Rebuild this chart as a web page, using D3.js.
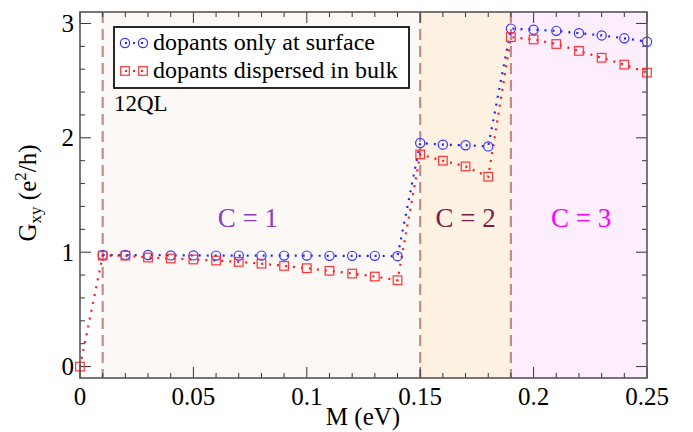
<!DOCTYPE html>
<html><head><meta charset="utf-8"><script src="https://cdn.jsdelivr.net/npm/d3@7"></script></head>
<body style="margin:0">
<svg id="chart" width="693" height="432"></svg>
<script>
// Datos
const mSurface = [0.01, 0.02, 0.03, 0.04, 0.05, 0.06, 0.07, 0.08, 0.09, 0.10, 0.11, 0.12, 0.13, 0.14,
                  0.15, 0.16, 0.17, 0.18, 0.19, 0.20, 0.21, 0.22, 0.23, 0.24, 0.25];
const gSurface = [0.975, 0.975, 0.975, 0.972, 0.972, 0.97, 0.97, 0.97, 0.97, 0.97, 0.968, 0.968, 0.968, 0.965,
                  1.955, 1.94, 1.935, 1.925, 2.955, 2.945, 2.935, 2.915, 2.895, 2.87, 2.84];
const mBulk = [0, 0.01, 0.02, 0.03, 0.04, 0.05, 0.06, 0.07, 0.08, 0.09, 0.10, 0.11, 0.12, 0.13, 0.14,
               0.15, 0.16, 0.17, 0.18, 0.19, 0.20, 0.21, 0.22, 0.23, 0.24, 0.25];
const gBulk = [0, 0.97, 0.97, 0.953, 0.945, 0.936, 0.927, 0.915, 0.90, 0.88, 0.86, 0.837, 0.813, 0.787, 0.755,
               1.855, 1.80, 1.75, 1.66, 2.88, 2.86, 2.82, 2.76, 2.70, 2.64, 2.57];

const regionStarts = [0.01, 0.15, 0.19];
const regionEnds = [0.15, 0.19, 0.25];
const regionFills = ["#fcf8f5", "#fdf2e2", "#fdeefd"];
const regionLabels = ["C = 1", "C = 2", "C = 3"];
const regionLabelX = [0.074, 0.17, 0.221];
const regionLabelColors = ["#8a3fc4", "#7a1f45", "#ff00ff"];
const boundaries = [0.01, 0.15, 0.19];

const xTicks = [0, 0.05, 0.1, 0.15, 0.2, 0.25];
const xTickLabels = ["0", "0.05", "0.1", "0.15", "0.2", "0.25"];
const yTicks = [0, 1, 2, 3];

const fontName = "Liberation Serif";
const ff = "'" + fontName + "', monospace";
const ctx = document.createElement("canvas").getContext("2d");
ctx.font = "30px monospace"; ctx.measureText("dopants 0.05");
ctx.font = "30px " + ff; ctx.measureText("dopants 0.05");

const svg = d3.select("#chart");

const x = d3.scaleLinear().domain([0, 0.25]).range([80, 647]);
const y = d3.scaleLinear().domain([-0.1, 3.1]).range([378, 12]);

// Fondos de las regiones
svg.append("g").selectAll("rect")
    .data(regionStarts)
    .enter().append("rect")
    .attr("x", (d, i) => x(d))
    .attr("y", y(3.1))
    .attr("width", (d, i) => x(regionEnds[i]) - x(d))
    .attr("height", y(-0.1) - y(3.1))
    .attr("fill", (d, i) => regionFills[i]);

// Líneas discontinuas de transición
svg.append("g").selectAll("line")
    .data(boundaries)
    .enter().append("line")
    .attr("x1", d => x(d)).attr("x2", d => x(d))
    .attr("y1", y(3.1)).attr("y2", y(-0.1))
    .attr("stroke", "#c08c8c")
    .attr("stroke-width", 2.2)
    .attr("stroke-dasharray", "11,6");

// Etiquetas C = n
svg.append("g").selectAll("text")
    .data(regionLabels)
    .enter().append("text")
    .attr("x", (d, i) => x(regionLabelX[i]))
    .attr("y", 227)
    .attr("text-anchor", "middle")
    .attr("font-family", ff)
    .attr("font-size", 27)
    .attr("fill", (d, i) => regionLabelColors[i])
    .text(d => d);

// Ejes con marcas hacia dentro
const xMinor = d3.range(0, 0.2501, 0.01);
const yMinor = d3.range(0, 3.001, 0.2);
const axisG = svg.append("g").attr("stroke", "#333").attr("stroke-width", 1);
const xMajorSet = xTicks.map(v => Math.round(v * 100));
xMinor.forEach(v => {
    const isMajor = xMajorSet.includes(Math.round(v * 100));
    const len = isMajor ? 11 : 5;
    axisG.append("line").attr("x1", x(v)).attr("x2", x(v)).attr("y1", y(-0.1)).attr("y2", y(-0.1) - len);
    axisG.append("line").attr("x1", x(v)).attr("x2", x(v)).attr("y1", y(3.1)).attr("y2", y(3.1) + len);
});
yMinor.forEach(v => {
    const isMajor = Math.abs(v - Math.round(v)) < 1e-6;
    const len = isMajor ? 11 : 5;
    axisG.append("line").attr("x1", x(0)).attr("x2", x(0) + len).attr("y1", y(v)).attr("y2", y(v));
    axisG.append("line").attr("x1", x(0.25)).attr("x2", x(0.25) - len).attr("y1", y(v)).attr("y2", y(v));
});

// Series punteadas
const line = d3.line().x(d => x(d[0])).y(d => y(d[1]));
const surfacePts = mSurface.map((m, i) => [m, gSurface[i]]);
const bulkPts = mBulk.map((m, i) => [m, gBulk[i]]);

svg.append("path").datum(surfacePts)
    .attr("d", line).attr("fill", "none")
    .attr("stroke", "#2222ff").attr("stroke-width", 2.2)
    .attr("stroke-dasharray", "2,6");
svg.append("path").datum(bulkPts)
    .attr("d", line).attr("fill", "none")
    .attr("stroke", "#ff1a1a").attr("stroke-width", 2.2)
    .attr("stroke-dasharray", "2,6");

svg.append("g").selectAll("circle")
    .data(surfacePts)
    .enter().append("circle")
    .attr("cx", d => x(d[0])).attr("cy", d => y(d[1]))
    .attr("r", 4.6)
    .attr("fill", "none").attr("stroke", "#3333ff").attr("stroke-width", 1.2);

svg.append("g").selectAll("rect")
    .data(bulkPts)
    .enter().append("rect")
    .attr("x", d => x(d[0]) - 4.3).attr("y", d => y(d[1]) - 4.3)
    .attr("width", 8.6).attr("height", 8.6)
    .attr("fill", "none").attr("stroke", "#ff3333").attr("stroke-width", 1.2);

// Marco
svg.append("rect")
    .attr("x", x(0)).attr("y", y(3.1))
    .attr("width", x(0.25) - x(0)).attr("height", y(-0.1) - y(3.1))
    .attr("fill", "none").attr("stroke", "#555").attr("stroke-width", 1.6);

// Etiquetas de marcas
svg.append("g").selectAll("text")
    .data(xTicks)
    .enter().append("text")
    .attr("x", d => x(d)).attr("y", 405)
    .attr("text-anchor", "middle").attr("font-family", ff).attr("font-size", 25)
    .text((d, i) => xTickLabels[i]);

svg.append("g").selectAll("text")
    .data(yTicks)
    .enter().append("text")
    .attr("x", 74).attr("y", d => y(d) + 8.5)
    .attr("text-anchor", "end").attr("font-family", ff).attr("font-size", 25)
    .text(d => d);

// Títulos de ejes
svg.append("text")
    .attr("x", 363).attr("y", 425)
    .attr("text-anchor", "middle").attr("font-family", ff).attr("font-size", 25)
    .text("M (eV)");

const yTitle = svg.append("text")
    .attr("transform", "translate(36,193) rotate(-90)")
    .attr("text-anchor", "middle").attr("font-family", ff).attr("font-size", 25);
yTitle.append("tspan").text("G");
yTitle.append("tspan").attr("font-size", 17).attr("dy", 5).text("xy");
yTitle.append("tspan").attr("dy", -5).text(" (e");
yTitle.append("tspan").attr("font-size", 17).attr("dy", -10).text("2");
yTitle.append("tspan").attr("dy", 10).text("/h)");

// Leyenda
const legend = svg.append("g");
legend.append("rect")
    .attr("x", 114).attr("y", 27).attr("width", 295).attr("height", 61)
    .attr("fill", "#fff").attr("stroke", "#111").attr("stroke-width", 1.8);

const legendLabels = ["dopants only at surface", "dopants dispersed in bulk"];
const legendColors = ["#2222ff", "#ff1a1a"];
const legendY = [43, 71];
legendLabels.forEach((lab, i) => {
    const ly = legendY[i];
    legend.append("line")
        .attr("x1", 125).attr("x2", 143).attr("y1", ly).attr("y2", ly)
        .attr("stroke", legendColors[i]).attr("stroke-width", 2.2)
        .attr("stroke-dasharray", "2,6").attr("stroke-dashoffset", -8);
    [125, 143].forEach(cx => {
        if (i === 0) {
            legend.append("circle").attr("cx", cx).attr("cy", ly).attr("r", 4.6)
                .attr("fill", "none").attr("stroke", "#3333ff").attr("stroke-width", 1.2);
        } else {
            legend.append("rect").attr("x", cx - 4.3).attr("y", ly - 4.3)
                .attr("width", 8.6).attr("height", 8.6)
                .attr("fill", "none").attr("stroke", "#ff3333").attr("stroke-width", 1.2);
        }
    });
    legend.append("text")
        .attr("x", 153).attr("y", ly + 7)
        .attr("font-family", ff)
        .attr("font-size", 24)
        .text(lab);
});

svg.append("text")
    .attr("x", 114).attr("y", 111)
    .attr("font-family", ff)
    .attr("font-size", 23)
    .text("12QL");
</script>
</body></html>
